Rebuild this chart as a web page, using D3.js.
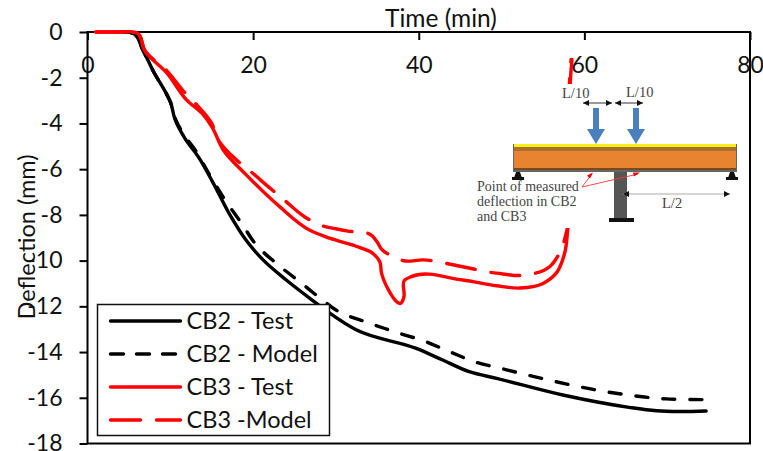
<!DOCTYPE html>
<html lang="en">
<head>
  <meta charset="UTF-8">
  <title>Deflection vs time</title>
  <script src="https://d3js.org/d3.v7.min.js"></script>
  <style>
    html, body { margin: 0; padding: 0; background: #fff; }
    text { font-family: Lato, sans-serif; fill: #111; }
    .axis path, .axis line { stroke: #000; stroke-width: 2px; }
    .axis text { font-size: 23px; font-family: Lato, sans-serif; }
    .inset text { font-family: "Liberation Serif", serif; fill: #444; }
  </style>
</head>
<body>
<div id="chart"></div>
<script>
var xTicks = [0, 20, 40, 60, 80];
var yTicks = [0, -2, -4, -6, -8, -10, -12, -14, -16, -18];

// [time, deflection]
var cb2Test = [[4, 0], [5, 0], [5.6, -0.08], [6.7, -0.8], [8, -1.75], [9.6, -2.75], [10, -3.05], [10.55, -3.8], [11.76, -4.65], [13.37, -5.45], [15.2, -6.62], [17.2, -8], [19, -9.03], [21.2, -9.97], [24, -10.85], [27.65, -11.87], [29.25, -12.3], [32.5, -13.04], [39.7, -13.84], [42.9, -14.35], [46.1, -14.86], [49.4, -15.15], [57.4, -15.88], [65.4, -16.42], [68.7, -16.57], [74.7, -16.58]];
var cb2Model = [[4, 0], [5, 0], [5.6, -0.08], [6.7, -0.8], [8, -1.75], [9.6, -2.75], [10, -3.05], [10.55, -3.75], [11.76, -4.55], [13, -5.16], [14.5, -6.1], [16.35, -7.2], [18.6, -8.37], [20.4, -9.32], [22.8, -10.12], [25.6, -10.92], [28.65, -11.8], [30, -12.16], [34.1, -12.74], [37.3, -13.14], [40.5, -13.5], [43.7, -13.98], [46.7, -14.42], [50.2, -14.74], [56.6, -15.3], [63.4, -15.78], [69.9, -16.05], [74.2, -16.08]];
var cb3Test = [[1, 0], [4, 0], [5.5, 0], [6, -0.05], [6.9, -0.8], [9.6, -1.8], [11.96, -2.97], [14, -3.63], [15, -4.14], [16.4, -5.16], [19.2, -6.26], [23.2, -7.64], [26.8, -8.66], [29.25, -9.02], [32.9, -9.43], [34.5, -9.7], [35.3, -10.05], [35.5, -10.55], [38, -11.8], [38.2, -11.6], [38.3, -10.85], [39.1, -10.7], [45.3, -10.85], [49.4, -11.1], [52.2, -11.2], [55, -11], [56.6, -10.55], [57.6, -9.7], [58, -8.6], [58.5, -5], [58.3, -2.2], [58.5, -1.2]];
var cb3Model = [[1, 0], [4, 0], [5.5, 0], [6, -0.05], [6.9, -0.8], [9.6, -1.7], [11.5, -2.55], [13.2, -3.19], [15, -4], [15.8, -4.72], [18, -5.6], [19.6, -6.07], [22.2, -6.88], [23.6, -7.3], [26.2, -8.08], [27.8, -8.4], [31.3, -8.7], [34.4, -8.92], [35, -9.2], [35.5, -9.5], [37.1, -9.84], [38.1, -10], [40.5, -9.97], [45.3, -10.27], [49.4, -10.55], [53, -10.63], [55.8, -10.27], [57, -9.67], [57.9, -8.66], [58.4, -5], [58.2, -2.2], [58.4, -1.2]];

var seriesNames = ["CB2 - Test", "CB2 - Model", "CB3 - Test", "CB3 -Model"];
var seriesColors = ["#000", "#000", "#f00", "#f00"];
var seriesDash = ["none", "12 15", "none", "29 16"];
var seriesData = [cb2Test, cb2Model, cb3Test, cb3Model];

var width = 763;
var height = 451;
var svg = d3.select("#chart").append("svg")
    .attr("width", width)
    .attr("height", height)
    .style("display", "block");

var x = d3.scaleLinear().domain([0, 80]).range([87.5, 750]);
var y = d3.scaleLinear().domain([0, -18]).range([32, 443.5]);

var line = d3.line()
    .x(function(d) { return x(d[0]); })
    .y(function(d) { return y(d[1]); })
    .curve(d3.curveCatmullRom.alpha(1));

// plot frame
svg.append("rect")
    .attr("x", x(0)).attr("y", y(0))
    .attr("width", x(80) - x(0)).attr("height", y(-18) - y(0))
    .attr("fill", "none").attr("stroke", "#000").attr("stroke-width", 2);

// lines
seriesData.forEach(function(d, i) {
  svg.append("path")
      .datum(d)
      .attr("d", line)
      .attr("fill", "none")
      .attr("stroke", seriesColors[i])
      .attr("stroke-width", 3.4)
      .attr("stroke-linecap", "round")
      .attr("stroke-dasharray", seriesDash[i]);
});

// inset beam sketch, sits over the curves. coords are relative to its own corner
var inset = svg.append("g").attr("class", "inset").attr("transform", "translate(475,84)");
inset.append("rect").attr("width", 270).attr("height", 144).attr("fill", "#fff");
// beam
inset.append("rect").attr("x", 38).attr("y", 60).attr("width", 224).attr("height", 28).attr("fill", "#666");
inset.append("rect").attr("x", 39).attr("y", 60).attr("width", 222).attr("height", 3).attr("fill", "#f7ee1a");
inset.append("rect").attr("x", 39).attr("y", 63).attr("width", 222).attr("height", 4).attr("fill", "#a8702e");
inset.append("rect").attr("x", 39).attr("y", 67).attr("width", 222).attr("height", 17).attr("fill", "#e8832f");
inset.append("rect").attr("x", 39).attr("y", 84).attr("width", 222).attr("height", 2).attr("fill", "#7a4a1e");
// column
inset.append("rect").attr("x", 139).attr("y", 88).attr("width", 13).attr("height", 47).attr("fill", "#555");
inset.append("rect").attr("x", 134).attr("y", 134).attr("width", 25).attr("height", 4).attr("fill", "#111");
// supports
[43, 257].forEach(function(cx) {
  inset.append("path").attr("d", "M" + (cx - 4) + ",94L" + (cx - 2) + ",88H" + (cx + 2) + "L" + (cx + 4) + ",94Z").attr("fill", "#111");
  inset.append("rect").attr("x", cx - 6).attr("y", 93).attr("width", 12).attr("height", 3).attr("fill", "#111");
});
// load arrows
[121, 161].forEach(function(ax) {
  inset.append("path")
      .attr("d", "M" + (ax - 3) + ",24H" + (ax + 3) + "V45H" + (ax + 9) + "L" + ax + ",60L" + (ax - 9) + ",45H" + (ax - 3) + "Z")
      .attr("fill", "#4a7fbd");
});
// dimension arrows
function dim(x1, x2, yy, col) {
  inset.append("line").attr("x1", x1).attr("x2", x2).attr("y1", yy).attr("y2", yy).attr("stroke", col).attr("stroke-width", 1);
  inset.append("path").attr("d", "M" + x1 + "," + yy + "l6,-3v6Z").attr("fill", "#111");
  inset.append("path").attr("d", "M" + x2 + "," + yy + "l-6,-3v6Z").attr("fill", "#111");
}
dim(108, 137, 19, "#333");
dim(140, 168, 19, "#333");
dim(148, 255, 110, "#aaa");
inset.append("text").attr("x", 87).attr("y", 14).attr("font-size", 14.5).text("L/10");
inset.append("text").attr("x", 151).attr("y", 13).attr("font-size", 14.5).text("L/10");
inset.append("text").attr("x", 187).attr("y", 124).attr("font-size", 14.5).text("L/2");
inset.append("text").attr("x", 2).attr("y", 107).attr("font-size", 14).text("Point of measured");
inset.append("text").attr("x", 2).attr("y", 122).attr("font-size", 14).text("deflection in CB2");
inset.append("text").attr("x", 2).attr("y", 137).attr("font-size", 14).text("and CB3");
// pointers to the measuring points
inset.append("path").attr("d", "M107,103L117,90M107,103L163,90").attr("stroke", "#f33").attr("stroke-width", 0.9).attr("fill", "none");
inset.append("path").attr("d", "M118,88.5l-6,3l3,3ZM165,88.5l-7,0l1,4Z").attr("fill", "#e00");

// axes, ticks point into / out of the frame as in the original
svg.append("g").attr("class", "axis")
    .attr("transform", "translate(0," + y(0) + ")")
    .call(d3.axisBottom(x).tickValues(xTicks).tickSize(8).tickPadding(17).tickFormat(function(d) { return String(d); }))
    .call(function(g) { g.select(".domain").remove(); });

svg.append("g").attr("class", "axis")
    .attr("transform", "translate(" + x(0) + ",0)")
    .call(d3.axisLeft(y).tickValues(yTicks).tickSize(8).tickPadding(17).tickFormat(function(d) { return String(d); }))
    .call(function(g) { g.select(".domain").remove(); });

svg.append("text")
    .attr("x", 441).attr("y", 27)
    .attr("text-anchor", "middle")
    .attr("font-size", 24.5)
    .text("Time (min)");

svg.append("text")
    .attr("transform", "translate(35,237) rotate(-90)")
    .attr("text-anchor", "middle")
    .attr("font-size", 23.5)
    .text("Deflection (mm)");

// legend
var legend = svg.append("g").attr("transform", "translate(97.5,304.5)");
legend.append("rect")
    .attr("width", 232).attr("height", 131)
    .attr("fill", "#fff").attr("stroke", "#111").attr("stroke-width", 1.5);
var legendDash = ["none", "13 13", "none", "30 16"];
seriesNames.forEach(function(name, i) {
  var ly = 16.5 + i * 33;
  legend.append("line")
      .attr("x1", 13).attr("x2", 83).attr("y1", ly).attr("y2", ly)
      .attr("stroke", seriesColors[i]).attr("stroke-width", 3.4)
      .attr("stroke-linecap", "round")
      .attr("stroke-dasharray", legendDash[i]);
  legend.append("text")
      .attr("x", 89).attr("y", ly + 8)
      .attr("font-size", 23.5)
      .text(name);
});
</script>
</body>
</html>
